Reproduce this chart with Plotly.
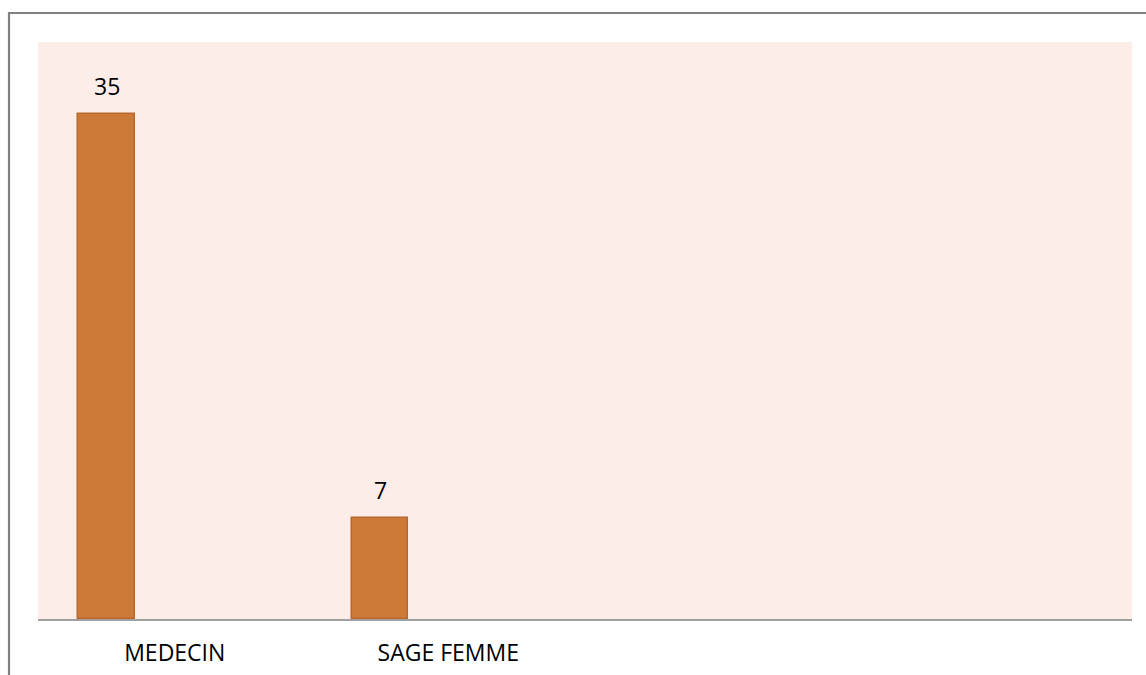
import plotly.graph_objects as go

# Categories (the last two slots are empty) and their counts
categories = ["MEDECIN", "SAGE FEMME", " ", "  "]
values = [35, 7, None, None]
value_labels = ["35", "7", "", ""]

BAR_WIDTH = 0.205
BAR_OFFSET = -0.352

fig = go.Figure()
fig.add_trace(go.Bar(
    x=categories,
    y=values,
    width=BAR_WIDTH,
    offset=BAR_OFFSET,
    marker=dict(color="#CD7A38", line=dict(color="#B9682D", width=1.5)),
    hoverinfo="skip",
))

# Value labels centred above each bar
for i, (v, lab) in enumerate(zip(values, value_labels)):
    if v is None:
        continue
    fig.add_annotation(
        x=i + BAR_OFFSET + BAR_WIDTH / 2, y=v, text=lab, showarrow=False,
        yanchor="bottom", yshift=10,
        font=dict(family="Open Sans", size=23, color="#000000"),
    )

# Outer chart frame
fig.add_shape(type="rect", xref="paper", yref="paper",
              x0=-0.0265, x1=1.2, y0=-0.3, y1=1.0503,
              line=dict(color="#808080", width=2.2), fillcolor="rgba(0,0,0,0)")

fig.update_layout(
    width=1146, height=675,
    margin=dict(l=38, r=14, t=42, b=56, autoexpand=False),
    paper_bgcolor="#FFFFFF",
    plot_bgcolor="#FCEDE8",
    showlegend=False,
    bargap=0,
    xaxis=dict(
        type="category", range=[-0.5, 3.5], automargin=False,
        showline=True, linecolor="#A0A0A0", linewidth=2,
        showgrid=False, ticks="", ticklabelstandoff=12,
        tickfont=dict(family="Open Sans", size=23, color="#000000"),
        zeroline=False, fixedrange=True,
    ),
    yaxis=dict(
        range=[0, 40], visible=False, showgrid=False, zeroline=False,
    ),
)

fig.write_html("out.html")
